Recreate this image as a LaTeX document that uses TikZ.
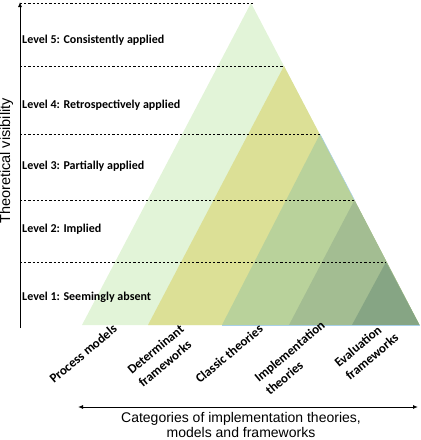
\documentclass[tikz,border=0pt]{standalone}
\usepackage{fontspec}
\setmainfont{Carlito}
\newfontfamily\arialf{Liberation Sans}
\usetikzlibrary{arrows.meta}
\definecolor{cA}{HTML}{E2F4D8}
\definecolor{cB}{HTML}{DCE096}
\definecolor{cC}{HTML}{B9D29B}
\definecolor{cD}{HTML}{A3BD92}
\definecolor{cE}{HTML}{86A584}
\definecolor{edgeblue}{HTML}{A8D0E8}
\newcommand{\twol}[2]{\begin{tabular}[t]{@{}l@{}}#1\\#2\end{tabular}}
\tikzset{
  lvl/.style={anchor=west, font=\bfseries\fontsize{12}{14}\selectfont, inner sep=0pt},
  cat/.style={anchor=base west, rotate=40, font=\bfseries\fontsize{13}{17}\selectfont, inner sep=0pt},
  dotline/.style={dash pattern=on 2.2pt off 2pt, line width=0.9pt},
  axisline/.style={line width=0.9pt},
}
\begin{document}
\begin{tikzpicture}[x=1pt,y=-1pt]
\useasboundingbox (0,0) rectangle (421,440);
% triangles
\fill[cA] (251,3) -- (82,325) -- (419.5,325) -- cycle;
\fill[cB] (284,66) -- (148,325) -- (419.5,325) -- cycle;
\fill[cC] (320,134) -- (222,325) -- (419.5,325) -- cycle;
\fill[cD] (354.5,200) -- (289,325) -- (419.5,325) -- cycle;
\fill[cE] (386,262) -- (352,325) -- (419.5,325) -- cycle;
\draw[edgeblue, line width=0.8pt] (222,325.5) -- (419.5,325.5);
\draw[edgeblue, line width=0.5pt] (320,134) -- (354.5,200);
% coordinates
\coordinate (ax0) at (20,328);
\coordinate (ax1) at (20,2);
\coordinate (d5a) at (20,3);   \coordinate (d5b) at (253,3);
\coordinate (d4a) at (20,66);  \coordinate (d4b) at (284,66);
\coordinate (d3a) at (20,134); \coordinate (d3b) at (320,134);
\coordinate (d2a) at (20,200); \coordinate (d2b) at (354.5,200);
\coordinate (d1a) at (20,262); \coordinate (d1b) at (386,262);
\coordinate (bx0) at (78,407);
\coordinate (bx1) at (418,407);
% dashed lines
\draw[dotline] (d5a) -- (d5b);
\draw[dotline] (d4a) -- (d4b);
\draw[dotline] (d3a) -- (d3b);
\draw[dotline] (d2a) -- (d2b);
\draw[dotline] (d1a) -- (d1b);
% axes
\draw[axisline, -{Latex[length=5pt,width=4pt]}] (ax0) -- (ax1);
\draw[axisline, {Latex[length=5pt,width=4pt]}-{Latex[length=5pt,width=4pt]}] (bx0) -- (bx1);
% level labels
\node[lvl] (l5) at (22,40) {Level 5: Consistently applied};
\node[lvl] (l4) at (22,105) {Level 4: Retrospectively applied};
\node[lvl] (l3) at (22,166) {Level 3: Partially applied};
\node[lvl] (l2) at (22,229) {Level 2: Implied};
\node[lvl] (l1) at (22,297) {Level 1: Seemingly absent};
% category labels
\node[cat] (c1) at (54,384) {Process models};
\node[cat] (c2) at (132,375) {\twol{Determinant}{frameworks}};
\node[cat] (c3) at (200,384) {Classic theories};
\node[cat] (c4) at (259,383) {\twol{Implementation}{theories}};
\node[cat] (c5) at (339,368) {\twol{Evaluation}{frameworks}};
% axis titles
\node[font=\arialf\fontsize{14.5}{16}\selectfont, rotate=90] (yt) at (6.5,161) {Theoretical visibility};
\node[font=\arialf\fontsize{14}{15.5}\selectfont, align=center] (xt) at (241,425) {Categories of implementation theories,\\models and frameworks};
\end{tikzpicture}
\end{document}
